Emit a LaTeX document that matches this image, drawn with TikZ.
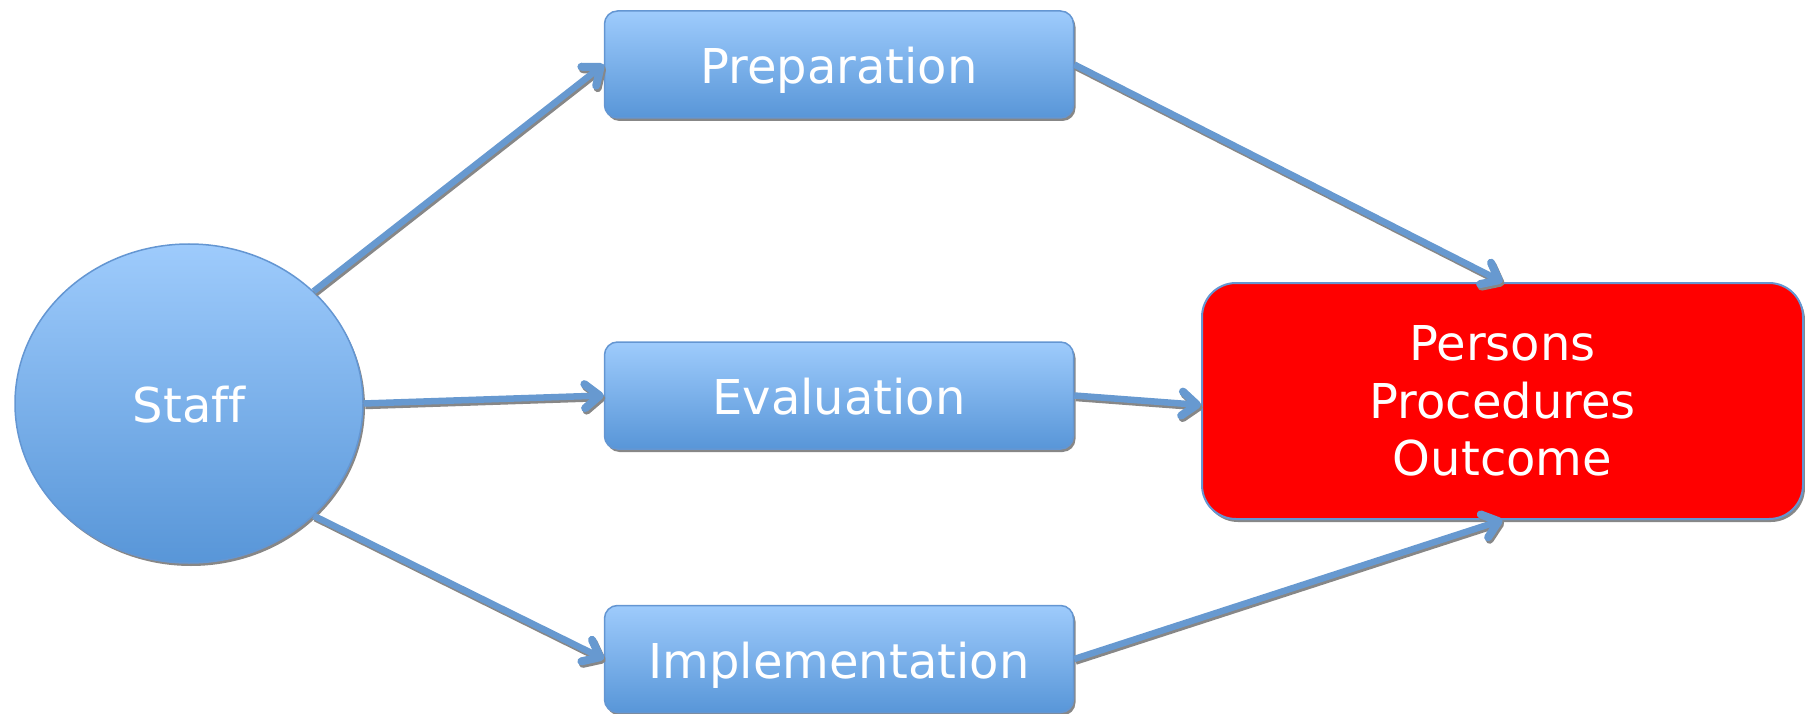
\documentclass[tikz,border=0pt]{standalone}
\usepackage{fontspec}
\setmainfont[Ligatures=NoCommon]{DejaVu Sans}
\usetikzlibrary{shapes.geometric,shadows,arrows.meta}
\definecolor{btop}{RGB}{158,203,252}
\definecolor{bbot}{RGB}{88,150,216}
\definecolor{bborder}{RGB}{100,150,210}
\definecolor{arrowblue}{RGB}{103,153,208}
\definecolor{shadowgray}{RGB}{135,135,135}
\tikzset{
  every node/.style={font=\fontsize{48}{57.5}\selectfont},
  shadowed/.style={drop shadow={shadow xshift=2pt, shadow yshift=-3pt, fill=shadowgray, opacity=1}},
  bluebox/.style={shadowed, draw=bborder, line width=1.5pt, rounded corners=13pt,
    top color=btop, bottom color=bbot, minimum width=469pt, minimum height=107pt,
    text=white, inner sep=0pt, text height=38pt, text depth=0pt},
  staffnode/.style={shadowed, ellipse, draw=bborder, line width=1.5pt,
    top color=btop, bottom color=bbot, minimum width=348pt, minimum height=319pt,
    text=white, inner sep=0pt, text height=37pt, text depth=0pt},
  redbox/.style={shadowed, draw=bborder, line width=2pt, rounded corners=34pt,
    fill=red, minimum width=601pt, minimum height=236pt, text=white,
    inner sep=0pt, align=center},
  tipstyle/.style={-{Straight Barb[length=15pt,width=24pt,line width=1.5pt 1,round]}},
  conn/.style={draw=arrowblue, line width=6.5pt, tipstyle,
    preaction={draw=shadowgray, line width=6.5pt, tipstyle,
      transform canvas={xshift=1.5pt,yshift=-2.5pt}}},
}
\begin{document}
\begin{tikzpicture}[x=1pt,y=-1pt]
\useasboundingbox (0,0) rectangle (1805,714);
\node[staffnode] (staff) at (189,403.5) {Staff};
\node[bluebox] (prep) at (839,64.5) {Preparation};
\node[bluebox] (eval) at (839,395.5) {Evaluation};
\node[bluebox] (impl) at (839,659) {Implementation};
\node[redbox] (out) at (1502.5,401) {Persons\\Procedures\\Outcome};
\draw[conn] (staff.42) -- (prep.west);
\draw[conn] (staff.east) -- (eval.west);
\draw[conn] (staff.-42) -- (impl.west);
\draw[conn] (prep.east) -- (out.north);
\draw[conn] (eval.east) -- ([yshift=-4pt]out.west);
\draw[conn] (impl.east) -- (out.south);
\end{tikzpicture}
\end{document}
